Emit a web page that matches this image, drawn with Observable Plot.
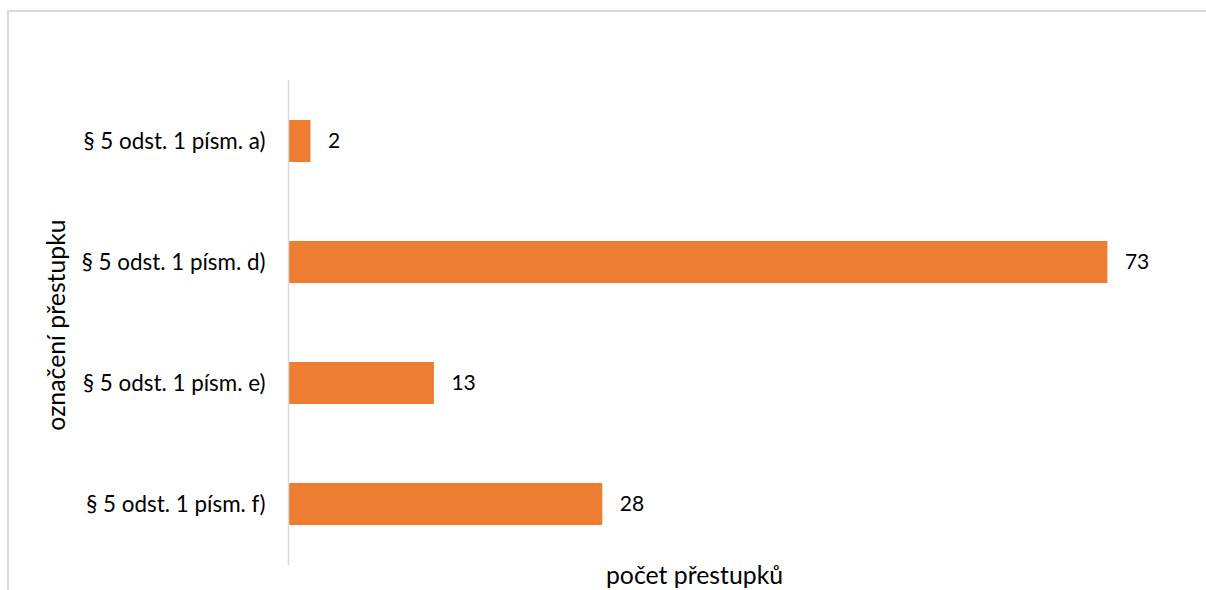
<!DOCTYPE html>
<html>
<head>
<meta charset="utf-8">
<script src="https://cdn.jsdelivr.net/npm/d3@7"></script>
<script src="https://cdn.jsdelivr.net/npm/@observablehq/plot@0.6"></script>
<style>
  html, body { margin: 0; padding: 0; background: #fff; }
  #wrap { position: relative; width: 1206px; height: 590px; overflow: hidden; }
  #frame { position: absolute; left: 7px; top: 10px; width: 1300px; height: 700px;
           border-left: 2px solid #d9d9d9; border-top: 2px solid #d9d9d9; box-sizing: border-box; }
  #chart { position: absolute; left: 0; top: 0; }
</style>
</head>
<body>
<div id="wrap"><div id="frame"></div><div id="chart"></div></div>
<script>
const categories = ["§ 5 odst. 1 písm. a)", "§ 5 odst. 1 písm. d)", "§ 5 odst. 1 písm. e)", "§ 5 odst. 1 písm. f)"];
const values = [2, 73, 13, 28];
const xTitle = "počet přestupků";
const yTitle = "označení přestupku";

const data = categories.map((c, i) => ({category: c, value: values[i]}));
const font = "Lato, 'Open Sans', sans-serif";

const chart = Plot.plot({
  width: 1206,
  height: 590,
  marginLeft: 288,
  marginRight: 20,
  marginTop: 80,
  marginBottom: 25,
  style: {fontFamily: font, fontSize: "22px", color: "#000", background: "transparent"},
  x: {domain: [0, 80], axis: null},
  y: {domain: categories, paddingInner: 0.654, paddingOuter: 0.327, label: null},
  marks: [
    Plot.axisY({tickSize: 0, tickPadding: 23, fontSize: 22.4, fill: "#000", label: null}),
    Plot.barX(data, {x: "value", y: "category", fill: "#ED7D31"}),
    Plot.ruleX([0], {stroke: "#d9d9d9", strokeWidth: 1.5}),
    Plot.text(data, {x: "value", y: "category", text: d => String(d.value), textAnchor: "start", dx: 17, fontSize: 21, fill: "#000"}),
    Plot.text([xTitle], {frameAnchor: "bottom", dx: -43, dy: 11, lineAnchor: "middle", fontSize: 24.8, fill: "#000"}),
    Plot.text([yTitle], {frameAnchor: "left", textAnchor: "middle", rotate: -90, dx: -231, dy: 2, lineAnchor: "middle", fontSize: 24.8, fill: "#000"})
  ]
});
document.getElementById("chart").appendChild(chart);
</script>
</body>
</html>
